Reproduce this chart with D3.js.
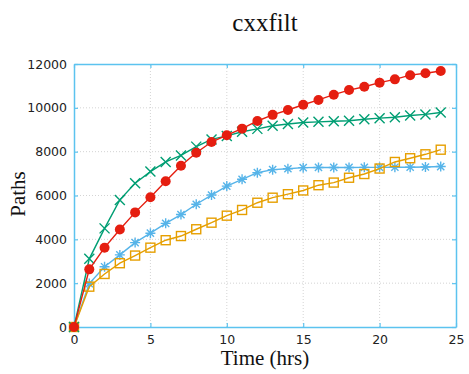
<!DOCTYPE html>
<html>
<head>
<meta charset="utf-8">
<script src="https://cdn.jsdelivr.net/npm/d3@7"></script>
<style>
  html, body { margin: 0; padding: 0; background: #fff; }
  svg { display: block; }
</style>
</head>
<body>
<svg id="chart" width="469" height="374"></svg>
<script>
// Paths explored over time for cxxfilt, one series per configuration
const hours = d3.range(0, 25);
const redCircles = [0, 2630, 3620, 4450, 5230, 5920, 6650, 7360, 7950, 8440, 8750, 9050, 9400, 9680,
  9900, 10140, 10360, 10600, 10810, 10960, 11150, 11300, 11490, 11575, 11680];
const greenCrosses = [0, 3110, 4500, 5800, 6560, 7090, 7530, 7830, 8230, 8560, 8720, 8910, 9040, 9180,
  9260, 9330, 9360, 9390, 9410, 9480, 9530, 9570, 9650, 9700, 9790];
const blueStars = [0, 1980, 2750, 3290, 3850, 4280, 4730, 5130, 5600, 6020, 6430, 6740, 7040, 7180,
  7220, 7270, 7280, 7280, 7280, 7285, 7285, 7290, 7290, 7300, 7320];
const orangeSquares = [0, 1840, 2420, 2910, 3260, 3620, 3960, 4150, 4460, 4760, 5080, 5340, 5670, 5900,
  6060, 6230, 6470, 6590, 6810, 6980, 7230, 7530, 7700, 7880, 8090];

const xTicks = [0, 5, 10, 15, 20, 25];
const yTicks = [0, 2000, 4000, 6000, 8000, 10000, 12000];

const svg = d3.select("#chart");
const margin = { left: 74, right: 13, top: 64, bottom: 47 };
const W = 469, H = 374;
const x = d3.scaleLinear().domain([0, 25]).range([margin.left, W - margin.right]);
const y = d3.scaleLinear().domain([0, 12000]).range([H - margin.bottom, margin.top]);

const borderColor = "#5cc3ef";
const textColor = "#222";

// dotted grid
const grid = svg.append("g");
grid.selectAll("line.gx").data(xTicks.slice(1, -1)).join("line")
  .attr("x1", d => x(d)).attr("x2", d => x(d))
  .attr("y1", y(0)).attr("y2", y(12000))
  .attr("stroke", "#d4d4d4").attr("stroke-width", 1).attr("stroke-dasharray", "1,2");
grid.selectAll("line.gy").data(yTicks.slice(1, -1)).join("line")
  .attr("x1", x(0)).attr("x2", x(25))
  .attr("y1", d => y(d)).attr("y2", d => y(d))
  .attr("stroke", "#d4d4d4").attr("stroke-width", 1).attr("stroke-dasharray", "1,2");

// axes with inward ticks on all four sides
const tickLen = 4;
const styleAxis = g => {
  g.selectAll(".domain").attr("stroke", borderColor).attr("stroke-width", 1.5);
  g.selectAll(".tick line").attr("stroke", borderColor).attr("stroke-width", 1.2);
  g.selectAll(".tick text").attr("fill", textColor)
    .style("font-family", "'DejaVu Sans', sans-serif").style("font-size", "12.5px");
};
svg.append("g").attr("transform", `translate(0,${y(0)})`)
  .call(d3.axisBottom(x).tickValues(xTicks).tickSizeInner(-tickLen).tickSizeOuter(0).tickPadding(8))
  .call(styleAxis);
svg.append("g").attr("transform", `translate(0,${y(12000)})`)
  .call(d3.axisTop(x).tickValues(xTicks).tickSizeInner(-tickLen).tickSizeOuter(0).tickFormat(""))
  .call(styleAxis);
svg.append("g").attr("transform", `translate(${x(0)},0)`)
  .call(d3.axisLeft(y).tickValues(yTicks).tickSizeInner(-tickLen).tickSizeOuter(0).tickPadding(7).tickFormat(d3.format("d")))
  .call(styleAxis);
svg.append("g").attr("transform", `translate(${x(25)},0)`)
  .call(d3.axisRight(y).tickValues(yTicks).tickSizeInner(-tickLen).tickSizeOuter(0).tickFormat(""))
  .call(styleAxis);

// series
const series = [
  { name: "blue", values: blueStars, color: "#56b4e9", marker: "star" },
  { name: "orange", values: orangeSquares, color: "#e69f00", marker: "square" },
  { name: "green", values: greenCrosses, color: "#009e73", marker: "cross" },
  { name: "red", values: redCircles, color: "#e51e10", marker: "circle" }
];

const line = d3.line().x((d, i) => x(hours[i])).y(d => y(d));

series.forEach(s => {
  const g = svg.append("g");
  g.append("path").datum(s.values)
    .attr("d", line).attr("fill", "none")
    .attr("stroke", s.color).attr("stroke-width", 1.4);
  const pts = g.selectAll("g.pt").data(s.values).join("g")
    .attr("transform", (d, i) => `translate(${x(hours[i])},${y(d)})`);
  if (s.marker === "circle") {
    pts.append("circle").attr("r", 5).attr("fill", s.color);
  } else if (s.marker === "square") {
    pts.append("rect").attr("x", -4.5).attr("y", -4.5).attr("width", 9).attr("height", 9)
      .attr("fill", "none").attr("stroke", s.color).attr("stroke-width", 1.4);
  } else if (s.marker === "cross") {
    pts.append("path").attr("d", "M-5,-5L5,5M-5,5L5,-5")
      .attr("stroke", s.color).attr("stroke-width", 1.4);
  } else if (s.marker === "star") {
    pts.append("path").attr("d", "M-5,0L5,0M0,-5L0,5M-3.6,-3.6L3.6,3.6M-3.6,3.6L3.6,-3.6")
      .attr("stroke", s.color).attr("stroke-width", 1.4);
  }
});

// title and axis labels
svg.append("text").attr("x", 265).attr("y", 31).attr("text-anchor", "middle")
  .style("font-family", "'Liberation Serif', 'Times New Roman', serif").style("font-size", "25px")
  .attr("fill", "#111").text("cxxfilt");
svg.append("text").attr("x", 265).attr("y", 365).attr("text-anchor", "middle")
  .style("font-family", "'Liberation Serif', 'Times New Roman', serif").style("font-size", "21px")
  .attr("fill", "#111").text("Time (hrs)");
svg.append("text").attr("transform", "translate(25,194) rotate(-90)").attr("text-anchor", "middle")
  .style("font-family", "'Liberation Serif', 'Times New Roman', serif").style("font-size", "21px")
  .attr("fill", "#111").text("Paths");
</script>
</body>
</html>
